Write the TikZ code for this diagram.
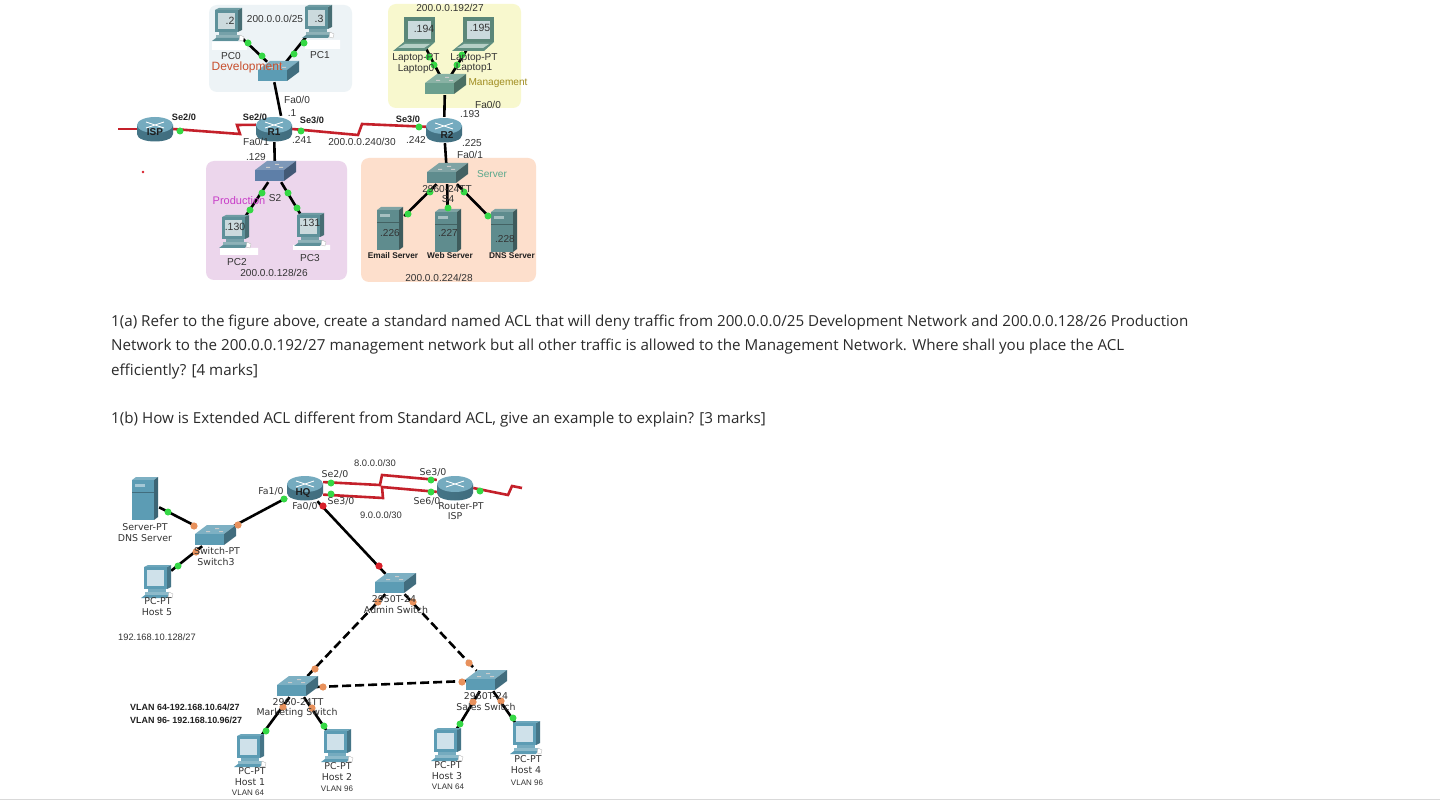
\documentclass[tikz,border=0pt]{standalone}
\usepackage{fontspec}
\setmainfont{Liberation Sans}
\newfontfamily\bodyfont{Open Sans}
\newfontfamily\ptfont{DejaVu Sans}
\definecolor{devbg}{HTML}{EDF3F6}
\definecolor{mgmtbg}{HTML}{F8F8CE}
\definecolor{prodbg}{HTML}{ECD6EC}
\definecolor{servbg}{HTML}{FDDFCC}
\definecolor{pgreen}{HTML}{35D845}
\definecolor{porange}{HTML}{E8915C}
\definecolor{pred}{HTML}{D8202A}
\definecolor{serialred}{HTML}{C4202A}
\definecolor{teal}{HTML}{5C9CB4}
\definecolor{slateblue}{HTML}{5E7FA8}
\definecolor{sagegreen}{HTML}{6B9F8E}
\definecolor{greyteal}{HTML}{5F8C8E}
\definecolor{greyscreen}{HTML}{CBDADD}
\definecolor{bluescreen}{HTML}{CFE1EA}
\definecolor{bodyink}{HTML}{2B2B2B}
\tikzset{
  x=1pt,y=-1pt,
  pcnode/.style={inner sep=0pt,minimum width=28pt,minimum height=30pt},
  swnode/.style={inner sep=0pt,minimum width=38pt,minimum height=20pt},
  rtnode/.style={inner sep=0pt,minimum width=36pt,minimum height=26pt},
  srvnode/.style={inner sep=0pt,minimum width=28pt,minimum height=42pt},
  region/.style={rounded corners=8pt,draw=none},
  wire/.style={line width=2.6pt,black},
  trunk/.style={line width=2.6pt,black,dash pattern=on 9pt off 4pt},
  serial/.style={line width=2.6pt,serialred,line join=miter},
  lbl/.style={inner sep=0pt,font=\fontsize{10.1}{12}\selectfont,text=black!80},
  lblb/.style={inner sep=0pt,font=\fontsize{9.2}{11}\bfseries\selectfont,text=black!88},
  lblc/.style={inner sep=0pt,font=\fontsize{8.3}{10}\bfseries\selectfont,text=black!88},
  rname/.style={inner sep=0pt,font=\fontsize{10}{12}\bfseries\selectfont,text=black!88},
  scr/.style={inner sep=0pt,font=\fontsize{10.5}{12}\selectfont,text=black!80},
  pt/.style={inner sep=0pt,font=\ptfont\fontsize{9.4}{11}\selectfont,text=black!80},
  vlan/.style={inner sep=0pt,font=\fontsize{8}{10}\selectfont,text=black!80},
  vlanb/.style={inner sep=0pt,anchor=west,font=\fontsize{8.95}{11}\bfseries\selectfont,text=black!88},
  para/.style={inner sep=0pt,anchor=west,font=\bodyfont\fontsize{15.17}{18}\selectfont,text=bodyink},
  % desktop computer icon
  pics/pcicon/.style 2 args={code={
    \fill[#1!75!black] (10,-15) -- (14,-17) -- (14,5) -- (10,7) -- cycle;
    \fill[#1!90!white] (-13,-15) -- (-9,-17) -- (14,-17) -- (10,-15) -- cycle;
    \fill[#1] (-13,-15) rectangle (10,7);
    \fill[#2] (-10,-12) rectangle (7,4);
    \fill[#1!85!white] (-9,7) rectangle (9,10);
    \fill[#1!70!white] (-12,10) rectangle (12,13);
    \fill[#1] (-12,13) -- (12,13) -- (10,16) -- (-16,16) -- cycle;
    \fill[white,draw=black!30,line width=.3pt] (12,10) -- (16,12) -- (15,16) -- (11,15) -- cycle;
  }},
  % notebook icon
  pics/laptopicon/.style={code={
    \fill[sagegreen!85!black] (-14,-16) -- (17,-16) -- (17,9) -- (-14,9) -- cycle;
    \fill[#1] (-10,-12) rectangle (13,6);
    \fill[sagegreen!90!black] (-14,9) -- (17,9) -- (7,18) -- (-25,18) -- cycle;
    \fill[sagegreen!50!white] (-13,11) -- (12,11) -- (6,15) -- (-20,15) -- cycle;
  }},
  % router drum with arrows on its lid
  pics/routericon/.style={code={
    \shade[left color=teal!75!black,middle color=white!70!teal,right color=teal!70!black]
      (-18,-4) -- (-18,5) .. controls (-18,15) and (18,15) .. (18,5) -- (18,-4) -- cycle;
    \fill[teal!85!white] (0,-4) ellipse[x radius=18,y radius=8];
    \draw[white,line width=.8pt] (-9,-7) -- (9,-1) (-9,-1) -- (9,-7);
  }},
  % workgroup switch box
  pics/switchicon/.style={code={
    \fill[#1!80!white] (-20,-2) -- (-8,-11) -- (21,-11) -- (9,-2) -- cycle;
    \fill[#1] (-20,-2) rectangle (9,9);
    \fill[#1!70!black] (9,-2) -- (21,-11) -- (21,0) -- (9,9) -- cycle;
    \fill[white!80!black] (-9,-5) rectangle +(4,1) (0,-8) rectangle +(4,1) (4,-5) rectangle +(4,1);
  }},
  % tower server
  pics/servericon/.style={code={
    \fill[#1!80!white] (-13,-20) -- (-9,-23) -- (13,-23) -- (9,-20) -- cycle;
    \fill[#1] (-13,-20) rectangle (9,20);
    \fill[#1!65!black] (9,-20) -- (13,-23) -- (13,17) -- (9,20) -- cycle;
    \fill[#1!55!white] (-10,-16) rectangle (0,-13);
    \draw[#1!70!black,line width=.4pt] (-13,-8) -- (9,-8);
  }},
}
\begin{document}
\begin{tikzpicture}
\useasboundingbox (0,0) rectangle (1440,802);
\fill[white] (0,0) rectangle (1440,802);

% shaded network zones
\fill[region,devbg] (209,5) rectangle (352,92);
\fill[region,mgmtbg] (388,4) rectangle (521,108);
\fill[region,prodbg] (206,161) rectangle (347,280);
\fill[region,servbg] (361,158) rectangle (536,282);
\fill[white] (212,42) rectangle (247,50) (305,40) rectangle (340,49)
             (220,248) rectangle (258,255) (293,245) rectangle (330,250);

% upper network: device positions
\node[pcnode] (pc0) at (228,25) {};
\node[pcnode] (pc1) at (318,22) {};
\node[swnode] (s1) at (278,72) {};
\node[rtnode] (isp) at (155,129) {};
\node[rtnode] (r1) at (274,129) {};
\node[swnode] (s2) at (275,172) {};
\node[pcnode] (pc2) at (235,232) {};
\node[pcnode] (pc3) at (310,230) {};
\node[pcnode] (lap0) at (418,33) {};
\node[pcnode] (lap1) at (477,33) {};
\node[swnode] (s3) at (445,85) {};
\node[rtnode] (r2) at (444,130) {};
\node[swnode] (s4) at (447,174) {};
\node[srvnode] (mail) at (390,230) {};
\node[srvnode] (web) at (448,232) {};
\node[srvnode] (dns) at (504,232) {};
\coordinate (ispfree) at (118,129);

% lower network: device positions
\node[srvnode] (dnssrv) at (145,500) {};
\node[swnode] (sw3) at (215,536) {};
\node[pcnode] (host5) at (157,582) {};
\node[rtnode] (hq) at (305,488) {};
\node[rtnode] (isprt) at (455,488) {};
\node[swnode] (admin) at (395,584) {};
\node[swnode] (mkt) at (297,687) {};
\node[swnode] (sales) at (486,681) {};
\node[pcnode] (host1) at (250,751) {};
\node[pcnode] (host2) at (337,746) {};
\node[pcnode] (host3) at (447,745) {};
\node[pcnode] (host4) at (526,738) {};
\coordinate (rtfree) at (522,488);

% upper network: links
\draw[wire] (pc0) -- (s1);
\draw[wire] (pc1) -- (s1);
\draw[wire] (s1.250) -- (r1.62);
\draw[wire] (r1) -- (s2);
\draw[wire] (s2) -- (pc2);
\draw[wire] (s2) -- (pc3);
\draw[wire] (lap0) -- (s3);
\draw[wire] (lap1) -- (s3);
\draw[wire] (s3) -- (r2);
\draw[wire] (r2) -- (s4);
\draw[wire] (s4) -- (mail);
\draw[wire] (s4) -- (web);
\draw[wire] (s4) -- (dns);
\draw[serial] (ispfree) -- (isp.west);
\draw[serial] (isp.east) -- (240,134) -- (237,125) -- (r1.167);
\draw[serial] (r1.east) -- (358,135) -- (362,124) -- (r2.170);

% lower network: links
\draw[wire] (dnssrv) -- (sw3);
\draw[wire] (sw3) -- (hq);
\draw[wire] (sw3) -- (host5);
\draw[wire] (hq) -- (admin);
\draw[trunk] (admin) -- (mkt);
\draw[trunk] (admin) -- (sales);
\draw[trunk] (mkt.east) -- (sales.west);
\draw[wire] (mkt) -- (host1);
\draw[wire] (mkt) -- (host2);
\draw[wire] (sales) -- (host3);
\draw[wire] (sales) -- (host4);
\draw[serial] (hq.18) -- (380,485) -- (382,475) -- (isprt.156);
\draw[serial] (hq.-20) -- (383,498) -- (382,487) -- (isprt.192);
\draw[serial] (isprt.east) -- (508,495) -- (512,486) -- (rtfree);

% device icons
\pic at (pc0) {pcicon={greyteal!70!teal}{greyscreen}};
\pic at (pc1) {pcicon={greyteal!70!teal}{greyscreen}};
\pic at (pc2) {pcicon={greyteal!70!teal}{greyscreen}};
\pic at (pc3) {pcicon={greyteal!70!teal}{greyscreen}};
\pic at (s1) {switchicon=teal};
\pic at (s2) {switchicon=slateblue};
\pic at (s3) {switchicon=sagegreen};
\pic at (s4) {switchicon=greyteal};
\pic at (isp) {routericon};
\pic at (r1) {routericon};
\pic at (r2) {routericon};
\pic at (lap0) {laptopicon=greyscreen};
\pic at (lap1) {laptopicon=greyscreen};
\pic at (mail) {servericon=greyteal};
\pic at (web) {servericon=greyteal};
\pic at (dns) {servericon=greyteal};
\pic at (dnssrv) {servericon=teal};
\pic at (sw3) {switchicon=teal};
\pic at (host5) {pcicon={teal}{bluescreen}};
\pic at (hq) {routericon};
\pic at (isprt) {routericon};
\pic at (admin) {switchicon=teal};
\pic at (mkt) {switchicon=teal};
\pic at (sales) {switchicon=teal};
\pic at (host1) {pcicon={teal}{bluescreen}};
\pic at (host2) {pcicon={teal}{bluescreen}};
\pic at (host3) {pcicon={teal}{bluescreen}};
\pic at (host4) {pcicon={teal}{bluescreen}};

% port status lights
\foreach \px/\py in {248/43,262/56,304/43,294/54,262/193,250/210,288/193,297/208,
    180/131,301/131,419/127,429/57,434/65,462/55,457/65,430/192,448/208,408/214,464/192,488/216,
    331/483,331/494,431/480,431/492,480/491,168/512,284/499,178/566,
    266/731,324/726,460/724,513/718}
  \fill[pgreen] (\px,\py) circle (3.5);
\foreach \px/\py in {194/526,238/525,196/552,378/602,413/602,315/669,323/687,283/707,312/708,
    469/663,462/682,473/702,501/701}
  \fill[porange] (\px,\py) circle (3.6);
\foreach \px/\py in {323/506,379/566}
  \fill[pred] (\px,\py) circle (3.6);
\fill[pred] (143,172) circle (1.3);

% upper network: labels
\node[lbl] (n1) at (275,19) {200.0.0.0/25};
\node[scr] (t2) at (230,21) {.2};
\node[scr] (t3) at (319,19) {.3};
\node[lbl] (pc0l) at (231,56) {PC0};
\node[lbl] (pc1l) at (320,55) {PC1};
\node[lbl,font=\fontsize{12}{14}\selectfont,text={rgb,255:red,200;green,80;blue,47}] (devl) at (247,67) {Development};
\node[lbl] (fa00a) at (297,100) {Fa0/0};
\node[lbl] (d1) at (292,113) {.1};
\node[lblb] (se20a) at (184,117) {Se2/0};
\node[lblb] (se20b) at (255,117) {Se2/0};
\node[lblb] (se30a) at (312,120) {Se3/0};
\node[rname] (ispl) at (155,132) {ISP};
\node[rname] (r1l) at (274,132) {R1};
\node[lbl] (fa01a) at (256,142) {Fa0/1};
\node[lbl] (d129) at (256,157) {.129};
\node[lbl] (d241) at (302,140) {.241};
\node[lbl] (n240) at (362,142) {200.0.0.240/30};
\node[lbl] (d242) at (416,140) {.242};
\node[lblb] (se30b) at (408,119) {Se3/0};
\node[rname] (r2l) at (447,135) {R2};
\node[lbl] (d193) at (470,114) {.193};
\node[lbl] (fa00b) at (488,105) {Fa0/0};
\node[lbl,text={rgb,255:red,160;green,140;blue,32}] (mgl) at (498,83) {Management};
\node[lbl] (lt0a) at (416,58) {Laptop-PT};
\node[lbl] (lt0b) at (416,69) {Laptop0};
\node[lbl] (lt1a) at (474,58) {Laptop-PT};
\node[lbl] (lt1b) at (474,68) {Laptop1};
\node[lbl] (n192) at (450,8) {200.0.0.192/27};
\node[scr] (d194) at (424,29) {.194};
\node[scr] (d195) at (480,28) {.195};
\node[lbl] (d225) at (472,143) {.225};
\node[lbl] (fa01b) at (470,155) {Fa0/1};
\node[lbl,text={rgb,255:red,90;green,168;blue,140}] (srvl) at (492,174) {Server};
\node[lbl] (m2960a) at (447,189) {2960-24TT};
\node[lbl] (s4l) at (448,199) {S4};
\node[lbl] (d226) at (390,233) {.226};
\node[lbl] (d227) at (448,233) {.227};
\node[lbl] (d228) at (505,239) {.228};
\node[lblc] (maill) at (393,256) {Email Server};
\node[lblc] (webl) at (450,256) {Web Server};
\node[lblc] (dnsl) at (512,256) {DNS Server};
\node[lbl] (n224) at (439,278) {200.0.0.224/28};
\node[lbl,font=\fontsize{11}{13}\selectfont,text={rgb,255:red,200;green,60;blue,200}] (prl) at (239,201) {Production};
\node[lbl] (s2l) at (275,198) {S2};
\node[scr] (d130) at (235,227) {.130};
\node[scr] (d131) at (310,223) {.131};
\node[lbl] (pc2l) at (237,262) {PC2};
\node[lbl] (pc3l) at (310,258) {PC3};
\node[lbl] (n128) at (274,273) {200.0.0.128/26};

% question text
\node[para] (q1) at (111,323) {1(a) Refer to the figure above, create a standard named ACL that will deny traffic from 200.0.0.0/25 Development Network and 200.0.0.128/26 Production};
\node[para] (q2) at (111,347) {Network to the 200.0.0.192/27 management network but all other traffic is allowed to the Management Network. Where shall you place the ACL};
\node[para] (q3) at (111,372) {efficiently? [4 marks]};
\node[para] (q4) at (111,420) {1(b) How is Extended ACL different from Standard ACL, give an example to explain? [3 marks]};

% lower network: labels
\node[lbl,font=\fontsize{9.4}{11}\selectfont] (n8) at (375,463) {8.0.0.0/30};
\node[lbl,font=\fontsize{9.4}{11}\selectfont] (n9) at (381,515) {9.0.0.0/30};
\node[pt] (lse20) at (335,474) {Se2/0};
\node[pt] (lse30a) at (433,472) {Se3/0};
\node[pt] (lse60) at (427,501) {Se6/0};
\node[pt] (lse30b) at (341,501) {Se3/0};
\node[pt] (lfa10) at (271,491) {Fa1/0};
\node[pt] (lfa00) at (305,506) {Fa0/0};
\node[rname] (hql) at (303,493) {HQ};
\node[pt] (rpt) at (461,506) {Router-PT};
\node[pt] (rnm) at (455,516) {ISP};
\node[pt] (dnsa) at (145,527) {Server-PT};
\node[pt] (dnsb) at (145,538) {DNS Server};
\node[pt] (sw3a) at (217,551) {Switch-PT};
\node[pt] (sw3b) at (216,562) {Switch3};
\node[pt] (h5a) at (158,601) {PC-PT};
\node[pt] (h5b) at (157,612) {Host 5};
\node[vlan,font=\fontsize{9.3}{11}\selectfont] (n10) at (157,637) {192.168.10.128/27};
\node[pt] (adma) at (394,599) {2950T-24};
\node[pt] (admb) at (396,610) {Admin Switch};
\node[vlanb] (vl64) at (130,707) {VLAN 64-192.168.10.64/27};
\node[vlanb] (vl96) at (130,720) {VLAN 96- 192.168.10.96/27};
\node[pt] (mkta) at (298,702) {2960-24TT};
\node[pt] (mktb) at (297,713) {Marketing Switch};
\node[pt] (sala) at (486,696) {2960T-24};
\node[pt] (salb) at (486,707) {Sales Switch};
\node[pt] (h1a) at (252,771) {PC-PT};
\node[pt] (h1b) at (250,782) {Host 1};
\node[vlan] (h1c) at (248,793) {VLAN 64};
\node[pt] (h2a) at (338,766) {PC-PT};
\node[pt] (h2b) at (337,777) {Host 2};
\node[vlan] (h2c) at (337,789) {VLAN 96};
\node[pt] (h3a) at (448,765) {PC-PT};
\node[pt] (h3b) at (447,776) {Host 3};
\node[vlan] (h3c) at (448,787) {VLAN 64};
\node[pt] (h4a) at (528,759) {PC-PT};
\node[pt] (h4b) at (526,770) {Host 4};
\node[vlan] (h4c) at (527,783) {VLAN 96};

% page edge rule
\draw[black!15,line width=1.4pt] (0,799.5) -- (1440,799.5);
\end{tikzpicture}
\end{document}
